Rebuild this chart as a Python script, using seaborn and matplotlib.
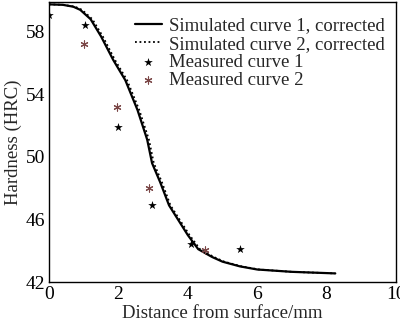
import matplotlib
matplotlib.use("Agg")
import matplotlib.pyplot as plt
import seaborn as sns
import pandas as pd

sim1_x = [0, 0.4, 0.7, 0.9, 1.2, 1.5, 1.85, 2.2, 2.55, 2.83, 2.97, 3.2, 3.46, 4.0, 4.3, 4.7, 5.0, 5.5, 6.0, 7.0, 8.25]
sim1_y = [59.75, 59.72, 59.6, 59.4, 58.8, 57.7, 56.2, 54.9, 53.0, 51.1, 49.6, 48.4, 46.9, 45.0, 44.1, 43.6, 43.3, 43.0, 42.8, 42.65, 42.55]
sim2_x = [0, 0.4, 0.75, 0.95, 1.25, 1.55, 1.9, 2.25, 2.6, 2.88, 3.02, 3.25, 3.5, 4.05, 4.35, 4.75, 5.05, 5.55, 6.05, 7.0, 8.25]
sim2_y = [59.75, 59.72, 59.6, 59.4, 58.8, 57.7, 56.2, 54.9, 53.0, 51.1, 49.6, 48.4, 46.9, 45.0, 44.1, 43.6, 43.3, 43.0, 42.8, 42.65, 42.55]
meas1_x = [0, 1.03, 2.0, 2.97, 4.09, 5.51]
meas1_y = [59.05, 58.4, 51.9, 46.9, 44.4, 44.1]
meas2_x = [1.0, 1.97, 2.89, 4.49]
meas2_y = [57.2, 53.2, 48.0, 44.05]
x_ticks = [0, 2, 4, 6, 8, 10]
y_ticks = [42, 46, 50, 54, 58]

sns.set_style("white")
plt.rcParams['font.family'] = ['Liberation Serif', 'DejaVu Serif']

fig = plt.figure(figsize=(4.0, 3.24), dpi=100)
ax = fig.add_axes([0.1225, 0.1296, 0.8675, 0.8642])

df1 = pd.DataFrame({"x": sim1_x, "y": sim1_y})
df2 = pd.DataFrame({"x": sim2_x, "y": sim2_y})
sns.lineplot(data=df1, x="x", y="y", ax=ax, color="black", lw=1.6,
             label="Simulated curve 1, corrected", sort=False)
sns.lineplot(data=df2, x="x", y="y", ax=ax, color="black", lw=1.3, linestyle=(0, (1, 1.5)),
             label="Simulated curve 2, corrected", sort=False)
ax.scatter(meas1_x, meas1_y, marker="*", s=42, color="black", linewidths=0,
           label="Measured curve 1", zorder=3)
ax.scatter(meas2_x, meas2_y, marker=(6, 2, 0), s=26, color="#7a4646", linewidths=0.8,
           label="Measured curve 2", zorder=3)

ax.set_xlim(0, 10)
ax.set_ylim(42, 59.9)
ax.set_xticks(x_ticks)
ax.set_yticks(y_ticks)
ax.set_xticklabels([str(t) for t in x_ticks])
ax.set_yticklabels([str(t) for t in y_ticks])
ax.tick_params(direction="in", length=4, width=1, labelsize=14, pad=3, colors="black")
ax.set_xlabel("Distance from surface/mm", fontsize=13.5, labelpad=1)
ax.set_ylabel("Hardness (HRC)", fontsize=13.5, labelpad=2)
for s in ax.spines.values():
    s.set_color("black")
    s.set_linewidth(1.0)

leg = ax.legend(loc="upper right", frameon=False, fontsize=13.5, handlelength=1.4,
                labelspacing=0.05, handletextpad=0.4, borderaxespad=0.2,
                bbox_to_anchor=(1.0, 0.985))

fig.savefig("out.png", dpi=100)
